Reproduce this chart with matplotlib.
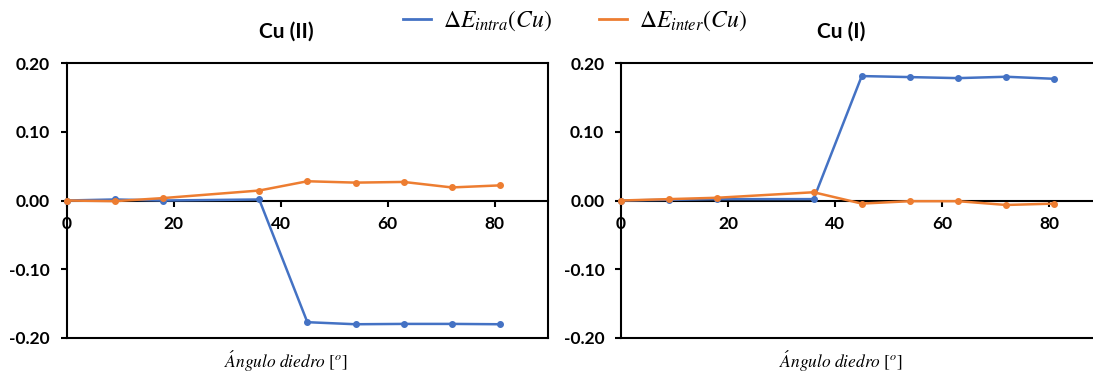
import matplotlib
matplotlib.use("Agg")
import matplotlib.pyplot as plt
from matplotlib.lines import Line2D
from matplotlib.ticker import FormatStrFormatter

plt.rcParams['axes.unicode_minus'] = False
plt.rcParams['mathtext.fontset'] = 'stix'
plt.rcParams['font.family'] = ['Lato', 'DejaVu Sans']

# Dihedral angle (degrees)
angle = [0, 9, 18, 36, 45, 54, 63, 72, 81]

# Cu (II)
intra_cu2 = [0.000, 0.0015, 0.000, 0.0015, -0.177, -0.180, -0.1795, -0.1795, -0.180]
inter_cu2 = [0.000, -0.001, 0.0035, 0.0145, 0.028, 0.026, 0.027, 0.019, 0.022]

# Cu (I)
intra_cu1 = [0.000, 0.001, 0.002, 0.002, 0.181, 0.1795, 0.178, 0.180, 0.177]
inter_cu1 = [0.000, 0.002, 0.004, 0.012, -0.0045, -0.001, -0.001, -0.0065, -0.0045]

titles = ["Cu (II)", "Cu (I)"]
series_labels = [r"$\Delta E_{intra}(Cu)$", r"$\Delta E_{inter}(Cu)$"]
xticks = [0, 20, 40, 60, 80]
yticks = [-0.20, -0.10, 0.00, 0.10, 0.20]
xlabel = r"$\mathit{\acute{A}ngulo\ diedro}\ [^{o}]$"

BLUE = "#4472C4"
ORANGE = "#ED7D31"

W, H = 1093, 375
fig = plt.figure(figsize=(W / 100, H / 100), dpi=100)

ax_w = 481.5 / W
ax_b = (H - 338) / H
ax_h = 275 / H
lefts = [66.6 / W, 621 / W]
title_x = [286 / W, 841 / W]

panels = [(intra_cu2, inter_cu2), (intra_cu1, inter_cu1)]
for i, (intra, inter) in enumerate(panels):
    ax = fig.add_axes([lefts[i], ax_b, ax_w, ax_h])
    ax.plot(angle, intra, color=BLUE, lw=1.8, marker='o', ms=4,
            clip_on=False, zorder=3)
    ax.plot(angle, inter, color=ORANGE, lw=1.8, marker='o', ms=4,
            clip_on=False, zorder=4)
    ax.set_xlim(0, 90)
    ax.set_ylim(-0.2, 0.2)
    ax.set_xticks(xticks)
    ax.set_yticks(yticks)
    ax.yaxis.set_major_formatter(FormatStrFormatter('%.2f'))
    for s in ['top', 'left', 'right']:
        ax.spines[s].set_linewidth(1.5)
    ax.spines['bottom'].set_position(('data', 0))
    ax.spines['bottom'].set_linewidth(1.5)
    # lower border of the plot frame
    ax.plot([0, 1], [0, 0], transform=ax.transAxes, color='black', lw=1.5,
            clip_on=False, zorder=5)
    ax.tick_params(axis='both', direction='out', length=4, width=1.5,
                   labelsize=12.5)
    ax.tick_params(axis='y', pad=8)
    ax.tick_params(axis='x', pad=7)
    for t in ax.get_xticklabels() + ax.get_yticklabels():
        t.set_fontweight('bold')
    fig.text(title_x[i], 1 - 32 / H, titles[i], ha='center', va='center',
             fontsize=15, fontweight='bold')
    fig.text(title_x[i], 1 / H, xlabel, ha='center', va='bottom',
             fontsize=12.5)

handles = [Line2D([], [], color=BLUE, lw=2), Line2D([], [], color=ORANGE, lw=2)]
fig.legend(handles, series_labels, loc='center', ncol=2, frameon=False,
           bbox_to_anchor=(575 / W, 1 - 21 / H), fontsize=17,
           handlelength=1.2, columnspacing=2.0, handletextpad=0.5)

fig.savefig("out.png", dpi=100)
